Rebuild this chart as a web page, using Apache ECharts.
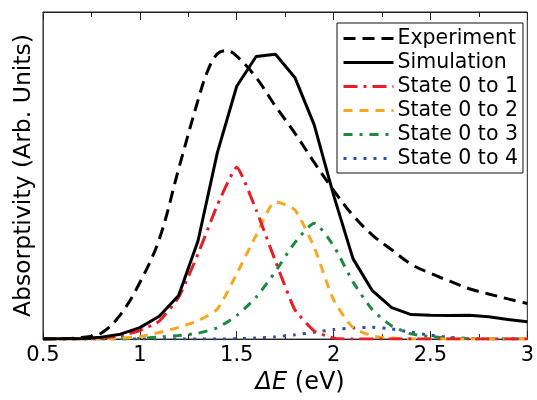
<!DOCTYPE html>
<html>
<head>
<meta charset="utf-8">
<script src="https://cdn.jsdelivr.net/npm/echarts@6/dist/echarts.min.js"></script>
<style>html,body{margin:0;padding:0;background:#fff}#c{width:537px;height:400px}</style>
</head>
<body>
<div id="c"></div>
<script>
// photon energy grid (eV)
var xs = [0.5,0.6,0.7,0.8,0.9,1.0,1.1,1.2,1.3,1.4,1.5,1.6,1.7,1.8,1.9,2.0,2.1,2.2,2.3,2.4,2.5,2.6,2.7,2.8,2.9,3.0];
var expX = [0.5,0.6,0.7,0.8,0.9,1.0,1.1,1.2,1.3,1.35,1.4,1.45,1.5,1.6,1.7,1.8,1.9,2.0,2.1,2.2,2.3,2.4,2.5,2.6,2.7,2.8,2.9,3.0];
var experiment = [0,0.001,0.005,0.018,0.075,0.173,0.305,0.52,0.73,0.82,0.872,0.882,0.865,0.80,0.712,0.63,0.54,0.455,0.378,0.318,0.273,0.229,0.201,0.177,0.154,0.138,0.123,0.109];
var simulation = [0,0.001,0.002,0.006,0.015,0.035,0.07,0.133,0.30,0.57,0.773,0.864,0.871,0.80,0.655,0.44,0.246,0.148,0.096,0.075,0.073,0.072,0.073,0.068,0.06,0.053];
var state01 = [0,0,0.001,0.003,0.01,0.026,0.055,0.128,0.26,0.41,0.525,0.395,0.238,0.09,0.025,0.003,0,0,0,0,0,0,0,0,0,0];
var state02 = [0,0,0,0.001,0.003,0.008,0.02,0.036,0.056,0.092,0.2,0.317,0.42,0.395,0.28,0.12,0.035,0.01,0.003,0,0,0,0,0,0,0];
var state03 = [0,0,0,0,0.001,0.002,0.006,0.011,0.018,0.035,0.072,0.128,0.207,0.295,0.354,0.285,0.175,0.09,0.04,0.016,0.008,0.003,0.001,0,0,0];
var state04 = [0,0,0,0,0,0,0,0,0,0,0.001,0.003,0.007,0.013,0.021,0.029,0.034,0.036,0.031,0.021,0.012,0.005,0.002,0,0,0];
var seriesNames = ['Experiment','Simulation','State 0 to 1','State 0 to 2','State 0 to 3','State 0 to 4'];
var xTicks = [0.5,1,1.5,2,2.5,3];

function pairs(x, y){ return x.map(function(v,i){ return [v, y[i]]; }); }

var FONT = 'DejaVu Sans';
var chart = echarts.init(document.getElementById('c'), null, {renderer:'canvas'});
function line(name, x, y, color, dash, smooth, z){
  return {
    name: name, type: 'line', data: pairs(x, y),
    symbol: 'none', smooth: smooth,
    z: z, silent: true, animation: false,
    lineStyle: {color: color, width: 3, type: dash, cap: 'butt'},
    itemStyle: {color: color}
  };
}
chart.setOption({
  animation: false,
  grid: {left: 43, right: 8, top: 12, bottom: 48, show: true, borderColor: '#222', borderWidth: 1},
  legend: {
    orient: 'vertical', left: 337, top: 23,
    data: seriesNames,
    backgroundColor: '#fff', borderColor: '#111', borderWidth: 1,
    padding: [5, 5, 4, 5], itemGap: 3, itemWidth: 50, itemHeight: 14,
    itemStyle: {color: 'rgba(0,0,0,0)', borderWidth: 0},
    lineStyle: {width: 3},
    textStyle: {fontFamily: FONT, fontSize: 20.5, color: '#000', padding: [0,0,0,-1]},
    z: 10
  },
  xAxis: [{
    type: 'value', min: xTicks[0], max: xTicks[xTicks.length-1], interval: 0.5,
    position: 'bottom',
    axisLine: {show: true, lineStyle: {color: '#222', width: 1}},
    axisTick: {show: true, inside: true, length: 8, lineStyle: {color: '#222'}},
    minorTick: {show: true, splitNumber: 2, length: 5, lineStyle: {color: '#222'}},
    splitLine: {show: false},
    axisLabel: {fontFamily: FONT, fontSize: 21, color: '#000', margin: 6},
    name: '{i|ΔE} (eV)', nameLocation: 'middle', nameGap: 14,
    nameTextStyle: {fontFamily: FONT, fontSize: 24, color: '#000', padding: [0,0,0,30],
      rich: {i: {fontFamily: FONT, fontSize: 24, fontStyle: 'italic', color: '#000'}}}
  },{
    type: 'value', min: xTicks[0], max: xTicks[xTicks.length-1], interval: 0.5,
    position: 'top',
    axisLine: {show: true, lineStyle: {color: '#222', width: 1}},
    axisTick: {show: true, inside: true, length: 8, lineStyle: {color: '#222'}},
    minorTick: {show: true, splitNumber: 2, length: 5, lineStyle: {color: '#222'}},
    splitLine: {show: false},
    axisLabel: {show: false}
  }],
  yAxis: {
    type: 'value', min: 0, max: 1,
    axisLine: {show: true, lineStyle: {color: '#444'}},
    axisTick: {show: false}, axisLabel: {show: false}, splitLine: {show: false},
    name: 'Absorptivity (Arb. Units)', nameLocation: 'middle', nameGap: 7,
    nameTextStyle: {fontFamily: FONT, fontSize: 23.5, color: '#000'}
  },
  series: [
    line(seriesNames[0], expX, experiment, '#000000', [12,7], 0.35, 6),
    line(seriesNames[1], xs, simulation, '#000000', 'solid', false, 7),
    line(seriesNames[2], xs, state01, '#ec1c24', [14,6,3,6], 0.15, 5),
    line(seriesNames[3], xs, state02, '#f7a823', [9,7], 0.2, 4),
    line(seriesNames[4], xs, state03, '#1c8a3c', [9,7,3,7], 0.2, 3),
    line(seriesNames[5], xs, state04, '#2b4fa8', [3,7], 0.2, 2)
  ]
});
</script>
</body>
</html>
